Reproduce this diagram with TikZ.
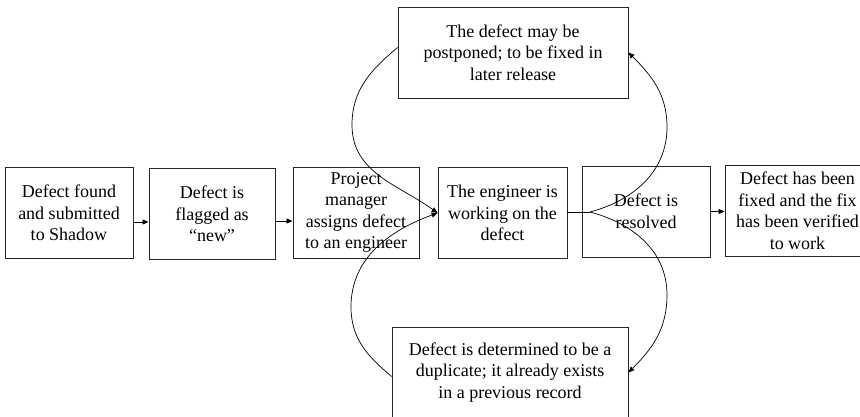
\documentclass[tikz,border=0pt]{standalone}
\usepackage{fontspec}
\setmainfont{Liberation Serif}
\usetikzlibrary{arrows.meta}

\begin{document}
\begin{tikzpicture}[x=1pt,y=1pt]
        \tikzstyle{every node}+=[inner sep=0pt]
        \tikzset{stage/.style={draw=black!85,line width=0.9pt,align=center,
            font=\fontsize{18}{21.5}\selectfont,minimum height=91pt},
          flow/.style={black,line width=0.8pt,-{Triangle[length=6pt,width=5pt]}},
          loop/.style={black,line width=0.7pt,-{Triangle[length=6pt,width=5pt]}}}
        \useasboundingbox (0,0) rectangle (860,417);
        \clip (0,0) rectangle (860,417);
        % main row
        \node[stage,minimum width=128pt] (found) at (69,204) {Defect found\\and submitted\\to Shadow};
        \node[stage,minimum width=126pt] (flagged) at (212,203) {Defect is\\flagged as\\“new”};
        \node[stage,minimum width=126pt] (assign) at (356,204.5) {Project\\manager\\assigns defect\\to an engineer};
        \node[stage,minimum width=129pt] (working) at (502.5,204) {The engineer is\\working on the\\defect};
        \node[stage,minimum width=128pt] (resolved) at (646,205.5) {Defect is\\resolved};
        \node[stage,minimum width=145pt] (verified) at (797.5,206) {Defect has been\\fixed and the fix\\has been verified\\to work};
        % side states
        \node[stage,minimum width=230pt] (postponed) at (513,364.5) {The defect may be\\postponed; to be fixed in\\later release};
        \node[stage,minimum width=236pt] (duplicate) at (510,44.5) {Defect is determined to be a\\duplicate; it already exists\\in a previous record};
        \coordinate (split) at (590,205);
        \draw[flow] (found.east |- 0,195) -- (flagged.west |- 0,195);
        \draw[flow] (flagged.east |- 0,196) -- (assign.west |- 0,196);
        \draw[flow] (resolved.east) -- (verified.west |- resolved.east);
        \draw[line width=0.8pt] (working.east |- split) -- (split);
        \draw[loop] (split) to[out=15,in=270] (667,290) to[out=90,in=-45] (postponed.east);
        \draw[loop] (split) to[out=-15,in=90] (667,122) to[out=270,in=45] (duplicate.east);
        \draw[loop] ([yshift=5pt]postponed.west) to[out=220,in=90] (352,292) to[out=270,in=144] (working.west);
        \draw[loop] ([yshift=-4pt]duplicate.west) to[out=140,in=270] (351,110) to[out=90,in=200] (working.west);
\end{tikzpicture}
\end{document}
